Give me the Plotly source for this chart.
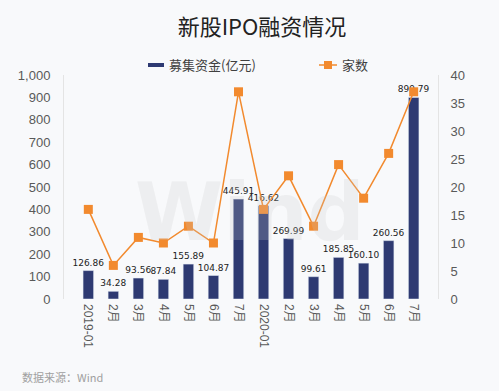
import plotly.graph_objects as go

categories = ["2019-01", "2月 ", "3月 ", "4月 ", "5月 ", "6月 ", "7月 ",
              "2020-01", "2月", "3月", "4月", "5月", "6月", "7月"]
funds = [126.86, 34.28, 93.56, 87.84, 155.89, 104.87, 445.91,
         416.62, 269.99, 99.61, 185.85, 160.10, 260.56, 899.79]
counts = [16, 6, 11, 10, 13, 10, 37, 16, 22, 13, 24, 18, 26, 37]

FONT = "Liberation Sans, Noto Sans CJK SC"
CJK = "Noto Sans CJK SC"
BG = "#f8f9fb"
NAVY = "#2e3a72"
ORANGE = "#f28a2e"

W, H = 499, 391
L, R, T, B = 64, 61, 75, 92
pw, ph = W - L - R, H - T - B

def px(x):
    return (x - L) / pw

def py(y):
    return (H - B - y) / ph

fig = go.Figure()
fig.add_trace(go.Bar(
    x=categories, y=funds, name="募集资金(亿元)",
    marker_color=NAVY, width=0.42,
    text=[f"{v:.2f}" for v in funds], textposition="outside",
    constraintext="none",
    textfont=dict(size=9, color="#222222", family="DejaVu Sans"),
    cliponaxis=False, showlegend=False,
))
fig.add_trace(go.Scatter(
    x=categories, y=counts, name="家数", yaxis="y2",
    mode="lines+markers",
    line=dict(color=ORANGE, width=1.5),
    marker=dict(symbol="square", size=9, color=ORANGE),
    showlegend=False,
))

shapes = [
    dict(type="rect", xref="paper", yref="paper", x0=px(148), x1=px(164),
         y0=py(67), y1=py(63), fillcolor=NAVY, line_width=0),
    dict(type="line", xref="paper", yref="paper", x0=px(319), x1=px(337),
         y0=py(65), y1=py(65), line=dict(color=ORANGE, width=1.5)),
    dict(type="rect", xref="paper", yref="paper", x0=px(324), x1=px(332),
         y0=py(69), y1=py(61), fillcolor=ORANGE, line_width=0),
]

fig.update_layout(
    width=W, height=H,
    paper_bgcolor=BG, plot_bgcolor=BG,
    margin=dict(l=L, r=R, t=T, b=B, autoexpand=False),
    font=dict(family=FONT, color="#595959", size=13),
    title=dict(text="新股IPO融资情况", x=262 / W, xanchor="center", y=1 - 27 / H,
               yanchor="middle", font=dict(size=22, color="#222222", family=CJK)),
    showlegend=False,
    shapes=shapes,
    xaxis=dict(type="category", tickangle=90, showgrid=False, ticks="",
               showline=False, automargin=False, ticklabelstandoff=4,
               tickfont=dict(size=12, color="#595959", family=FONT)),
    yaxis=dict(range=[0, 1000], dtick=100, tickformat=",", showgrid=False,
               showline=True, linecolor="#e4e4e4", linewidth=1, zeroline=False,
               ticks="", automargin=False, ticklabelstandoff=10,
               tickfont=dict(size=13, color="#595959")),
    yaxis2=dict(range=[0, 40], dtick=5, overlaying="y", side="right",
                showgrid=False, showline=True, linecolor="#e4e4e4", linewidth=1,
                zeroline=False, ticks="", automargin=False, ticklabelstandoff=9,
                tickfont=dict(size=13, color="#595959")),
    annotations=[
        dict(text="募集资金(亿元)", xref="paper", yref="paper", x=px(167), y=py(65),
             xanchor="left", yanchor="middle", showarrow=False,
             font=dict(size=13, color="#404040", family=CJK)),
        dict(text="家数", xref="paper", yref="paper", x=px(340), y=py(65),
             xanchor="left", yanchor="middle", showarrow=False,
             font=dict(size=13, color="#404040", family=CJK)),
        dict(text="数据来源：Wind", xref="paper", yref="paper", x=px(20), y=py(377),
             xanchor="left", yanchor="middle", showarrow=False,
             font=dict(size=11, color="#a0a0a0", family=CJK)),
        dict(text="<b>Wind</b>", xref="paper", yref="paper", x=px(250), y=py(212),
             xanchor="center", yanchor="middle", showarrow=False,
             font=dict(size=80, color="rgba(200,200,200,0.22)", family="DejaVu Sans")),
    ],
)

fig.write_html("out.html", config={"displayModeBar": False},
               post_script="document.body.style.margin='0';document.body.style.background='%s';" % BG)
